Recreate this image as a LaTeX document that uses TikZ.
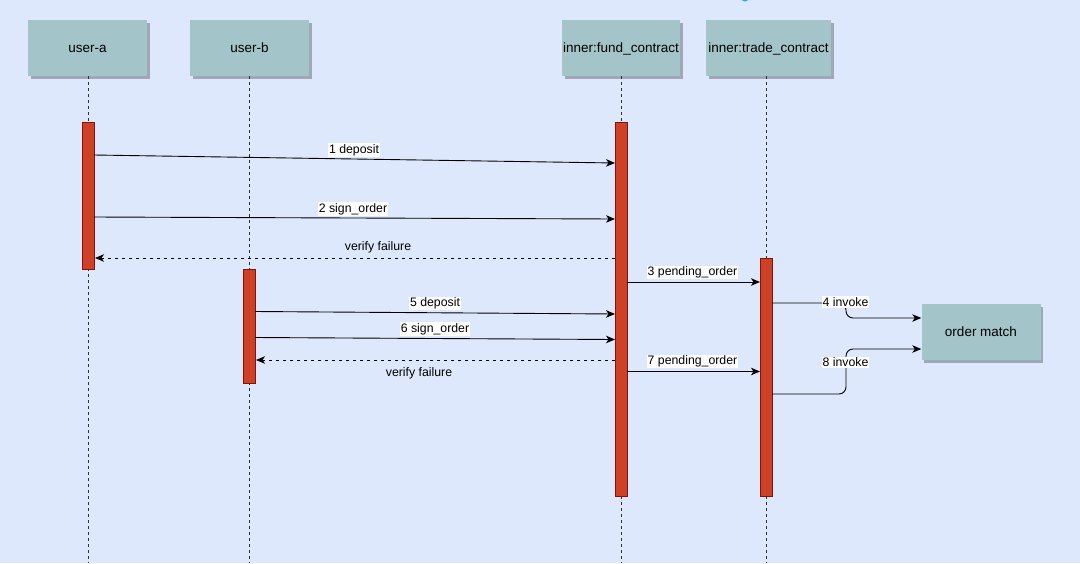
\documentclass[tikz,border=0pt]{standalone}
\usepackage{fontspec}
\setmainfont{Liberation Sans}
\usetikzlibrary{arrows.meta,shadows}
\definecolor{bgc}{RGB}{222,232,252}
\definecolor{boxc}{RGB}{163,196,200}
\definecolor{shc}{RGB}{160,168,184}
\definecolor{barc}{RGB}{206,65,38}
\definecolor{bard}{RGB}{130,20,10}
\definecolor{lifec}{RGB}{45,45,50}
\definecolor{dotc}{RGB}{40,170,240}
\begin{document}
\begin{tikzpicture}[x=1pt,y=-1pt,
  actor/.style={draw=none,fill=boxc,minimum width=119pt,minimum height=56pt,inner sep=0pt,
    text height=10pt,text depth=2pt,
    font=\fontsize{13.5}{16}\selectfont,
    drop shadow={shadow xshift=2.5pt,shadow yshift=-2.5pt,fill=shc,opacity=1}},
  bar/.style={draw=bard,fill=barc,line width=0.9pt,minimum width=12pt,inner sep=0pt,
    drop shadow={shadow xshift=1pt,shadow yshift=-1pt,fill=shc,opacity=0.5}},
  life/.style={draw=lifec,line width=1pt,dash pattern=on 3pt off 3pt},
  msg/.style={draw=black,line width=0.9pt,-{Stealth[length=9pt,width=7.5pt,inset=2.5pt]}},
  ret/.style={msg,dash pattern=on 3.5pt off 3.5pt},
  lbl/.style={fill=white,inner sep=1pt,font=\fontsize{12.3}{14}\selectfont},
  plain/.style={inner sep=1pt,font=\fontsize{12.3}{14}\selectfont}
]
\useasboundingbox (0,0) rectangle (1080,563);
\fill[bgc] (0,0) rectangle (1080,563);
\fill[dotc] (745,-4) circle (5.5);

% actors
\node[actor] (ua) at (87.5,48) {user-a};
\node[actor] (ub) at (249.5,48) {user-b};
\node[actor,minimum width=118pt] (fc) at (621,48) {inner:fund\_contract};
\node[actor,minimum width=125pt] (tc) at (768.5,48) {inner:trade\_contract};
\node[actor] (om) at (981,332) {order match};

% lifelines
\coordinate (ea) at (88,563);
\coordinate (eb) at (249,563);
\coordinate (ef) at (621,563);
\coordinate (et) at (766,563);
\draw[life] (ua.south -| ea) -- (ea);
\draw[life] (ub.south -| eb) -- (eb);
\draw[life] (fc.south -| ef) -- (ef);
\draw[life] (tc.south -| et) -- (et);

% activation bars
\node[bar,minimum height=147pt] (baA) at (88,195.5) {};
\node[bar,minimum height=114pt] (baB) at (249,326) {};
\node[bar,minimum height=374pt] (baF) at (621,309) {};
\node[bar,minimum height=238pt] (baT) at (766,377) {};

% messages
\coordinate (m1s) at (94,155);   \coordinate (m1e) at (615,163);
\coordinate (m2s) at (94,217);   \coordinate (m2e) at (615,219);
\coordinate (r1s) at (615,258);  \coordinate (r1e) at (95,258);
\coordinate (m3s) at (627,282);  \coordinate (m3e) at (760,282);
\coordinate (m5s) at (255,311.5);\coordinate (m5e) at (615,314);
\coordinate (m6s) at (255,337.5);\coordinate (m6e) at (615,339.5);
\coordinate (r2s) at (615,360);  \coordinate (r2e) at (256,360);
\coordinate (m7s) at (627,371.5);\coordinate (m7e) at (760,371.5);
\coordinate (m4s) at (772,303);
\coordinate (m8s) at (772,394);

\draw[msg] (m1s) -- (m1e);
\node[lbl] (l1) at (354,150) {1 deposit};
\draw[msg] (m2s) -- (m2e);
\node[lbl] (l2) at (353,209) {2 sign\_order};
\draw[ret] (r1s) -- (r1e);
\node[plain] (l3) at (378,247.5) {verify failure};
\draw[msg] (m3s) -- (m3e);
\node[lbl] (l4) at (692.5,272.5) {3 pending\_order};
\draw[msg] (m5s) -- (m5e);
\node[lbl] (l5) at (435,303.5) {5 deposit};
\draw[msg] (m6s) -- (m6e);
\node[lbl] (l6) at (435,329) {6 sign\_order};
\draw[ret] (r2s) -- (r2e);
\node[plain] (l7) at (419,373.5) {verify failure};
\draw[msg] (m7s) -- (m7e);
\node[lbl] (l8) at (692.5,361.5) {7 pending\_order};

\draw[msg,rounded corners=7pt] (m4s) -- (846,303) -- (846,318) -- ([yshift=14pt]om.west);
\node[lbl] (l9) at (845.5,302) {4 invoke};
\draw[msg,rounded corners=7pt] (m8s) -- (846,394) -- (846,349) -- ([yshift=-17pt]om.west);
\node[lbl] (l10) at (845.5,362.5) {8 invoke};
\end{tikzpicture}
\end{document}
